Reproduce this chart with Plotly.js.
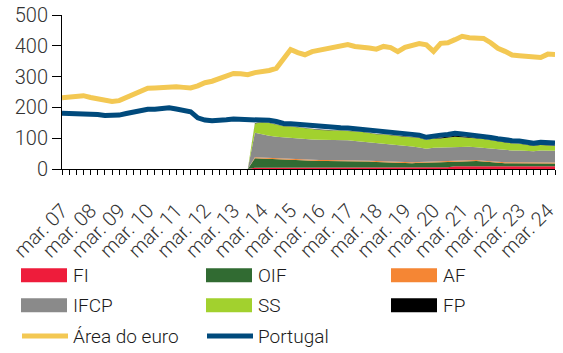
<!DOCTYPE html>
<html>
<head>
<meta charset="utf-8">
<script src="https://cdn.plot.ly/plotly-3.0.1.min.js"></script>
<style>
html,body{margin:0;padding:0;background:#fff;}
#chart{width:563px;height:353px;}
</style>
</head>
<body>
<div id="chart"></div>
<script>
const quarters = [
"mar. 07","jun. 07","set. 07","dez. 07","mar. 08","jun. 08","set. 08","dez. 08",
"mar. 09","jun. 09","set. 09","dez. 09","mar. 10","jun. 10","set. 10","dez. 10",
"mar. 11","jun. 11","set. 11","dez. 11","mar. 12","jun. 12","set. 12","dez. 12",
"mar. 13","jun. 13","set. 13","dez. 13","mar. 14","jun. 14","set. 14","dez. 14",
"mar. 15","jun. 15","set. 15","dez. 15","mar. 16","jun. 16","set. 16","dez. 16",
"mar. 17","jun. 17","set. 17","dez. 17","mar. 18","jun. 18","set. 18","dez. 18",
"mar. 19","jun. 19","set. 19","dez. 19","mar. 20","jun. 20","set. 20","dez. 20",
"mar. 21","jun. 21","set. 21","dez. 21","mar. 22","jun. 22","set. 22","dez. 22",
"mar. 23","jun. 23","set. 23","dez. 23","mar. 24","jun. 24"];

const euroArea = [231,234,236,238,232,228,224,219,222,232,242,252,262,263,265,267,267,265,263,270,
280,285,292,300,310,309,306,313,316,320,327,358,388,378,371,381,385,389,393,398,
404,398,397,393,389,398,394,381,395,400,407,403,382,408,410,420,431,426,424,424,
410,392,382,370,368,365,362,362,373,372];

const portugal = [181,181,180,180,178,177,174,173,175,180,186,192,194,194,197,199,195,190,186,166,
159,157,157,160,162,162,162,162,161,158,154,148,147,145,141,139,136,134,134,134,
133,131,129,126,122,121,118,116,114,112,110,103,108,110,112,116,114,112,110,106,
102,98,94,92,91,88,84,87,85,84];

const FI = [0,0,0,0,0,0,0,0,0,0,0,0,0,0,0,0,0,0,0,0,0,0,0,0,0,0,0,
4,4,4,4,4,4,4,4,4,4,4,4,4,4,4,4,4,4,4,4,4,4,4,4,4,4,4,6,9,9,9,9,9,9,9,9,9,9,9,9,9,9,9,9];

const OIF = [0,0,0,0,0,0,0,0,0,0,0,0,0,0,0,0,0,0,0,0,0,0,0,0,0,0,0,
31,30,29,27,25,24,23,23,22,22,22,22,22,21,21,20,20,19,18,17,16,15,15,16,16,17,18,17,
15,16,16,17,15,13,11,10,10,10,9,9,9,9,9];

const AF = [0,0,0,0,0,0,0,0,0,0,0,0,0,0,0,0,0,0,0,0,0,0,0,0,0,0,0,
3,3,3,3,3,3,3,3,3,3,3,3,3,3,3,3,3,3,3,3,3,3,3,3,3,3,3,3,3,3,3,3,3,3,3,3,3,3,3,3,3,3,3,3];

const IFCP = [0,0,0,0,0,0,0,0,0,0,0,0,0,0,0,0,0,0,0,0,0,0,0,0,0,0,0,
80,75,72,71,71,69,68,67,67,66,66,65,65,65,63,62,60,58,57,56,55,54,51,47,43,45,45,45,
45,44,44,42,42,41,40,39,38,38,38,37,39,38,38];

const SS = [0,0,0,0,0,0,0,0,0,0,0,0,0,0,0,0,0,0,0,0,0,0,0,0,0,0,0,
30,40,41,40,36,38,38,35,34,32,30,31,31,31,31,31,30,29,30,29,29,29,30,31,28,30,29,30,
33,31,29,30,28,27,26,24,23,22,20,17,18,17,16];

const FP = [0,0,0,0,0,0,0,0,0,0,0,0,0,0,0,0,0,0,0,0,0,0,0,0,0,0,0,
1,1,1,1,1,1,1,1,1,1,1,1,1,1,1,1,1,1,1,1,1,1,1,1,1,1,3,3,3,3,3,1,1,1,1,1,1,1,1,1,1,1,1];

const yTicks = [0,100,200,300,400,500];
const xTickText = quarters.map(q => q.startsWith("mar.") ? q : "");

const W = 563, H = 353;
const M = {l:62, r:8, t:15, b:184};
const pw = W - M.l - M.r, ph = H - M.t - M.b;
const px = x => (x - M.l) / pw;
const py = y => (H - M.b - y) / ph;

const areaDefs = [
  {name:"FI", y:FI, color:"#EE1C3B"},
  {name:"OIF", y:OIF, color:"#316B32"},
  {name:"AF", y:AF, color:"#F58634"},
  {name:"IFCP", y:IFCP, color:"#8A8A8A"},
  {name:"SS", y:SS, color:"#A2D12E"},
  {name:"FP", y:FP, color:"#000000"}
];
const euroColor = "#F3C853", ptColor = "#004A7C";

const traces = areaDefs.map(d => ({
  type:"scatter", mode:"lines", x:quarters, y:d.y, name:d.name,
  stackgroup:"one", line:{width:0, color:d.color}, fillcolor:d.color,
  showlegend:false, hoverinfo:"skip"
}));
traces.push({type:"scatter", mode:"lines", x:quarters, y:euroArea, name:"Área do euro",
  line:{color:euroColor, width:5}, showlegend:false});
traces.push({type:"scatter", mode:"lines", x:quarters, y:portugal, name:"Portugal",
  line:{color:ptColor, width:5}, showlegend:false});

// custom legend
const legFont = {family:"Roboto, sans-serif", size:19, color:"#1a1a1a", weight:300};
const cols = [21, 206, 391];
const rows = [275.3, 305.3, 336];
const legItems = [
  {t:"FI", c:"#EE1C3B", kind:"box", col:0, row:0},
  {t:"OIF", c:"#316B32", kind:"box", col:1, row:0},
  {t:"AF", c:"#F58634", kind:"box", col:2, row:0},
  {t:"IFCP", c:"#8A8A8A", kind:"box", col:0, row:1},
  {t:"SS", c:"#A2D12E", kind:"box", col:1, row:1},
  {t:"FP", c:"#000000", kind:"box", col:2, row:1},
  {t:"Área do euro", c:euroColor, kind:"line", col:0, row:2},
  {t:"Portugal", c:ptColor, kind:"line", col:1, row:2}
];
const shapes = [], annotations = [];
legItems.forEach(it => {
  const x0 = cols[it.col], yc = rows[it.row];
  if (it.kind === "box") {
    shapes.push({type:"rect", xref:"paper", yref:"paper",
      x0:px(x0), x1:px(x0+46), y0:py(yc-7), y1:py(yc+7),
      fillcolor:it.c, line:{width:0}});
  } else {
    shapes.push({type:"line", xref:"paper", yref:"paper",
      x0:px(x0+1), x1:px(x0+47), y0:py(yc), y1:py(yc),
      line:{color:it.c, width:5}});
  }
  annotations.push({xref:"paper", yref:"paper", x:px(x0+50), y:py(yc),
    xanchor:"left", yanchor:"middle", showarrow:false, text:it.t, font:legFont});
});

const tickFont = {family:"Roboto, sans-serif", size:20, color:"#333", weight:300};

const layout = {
  width:W, height:H, margin:M, paper_bgcolor:"#fff", plot_bgcolor:"#fff",
  showlegend:false,
  xaxis:{type:"category", range:[0, quarters.length-1], tickmode:"array",
    tickvals:quarters, ticktext:xTickText, tickangle:-45, ticks:"outside",
    ticklen:5, tickcolor:"#000", showline:true, linecolor:"#000", linewidth:1,
    showgrid:false, zeroline:false, tickfont:tickFont, ticklabelstandoff:16, fixedrange:true},
  yaxis:{range:[0,500], tickmode:"array", tickvals:yTicks, ticks:"outside",
    ticklen:9, tickcolor:"#000", showline:true, linecolor:"#000", linewidth:1,
    showgrid:false, zeroline:false, tickfont:tickFont, fixedrange:true},
  shapes:shapes, annotations:annotations
};

Plotly.newPlot("chart", traces, layout, {displayModeBar:false, staticPlot:true});
</script>
</body>
</html>
